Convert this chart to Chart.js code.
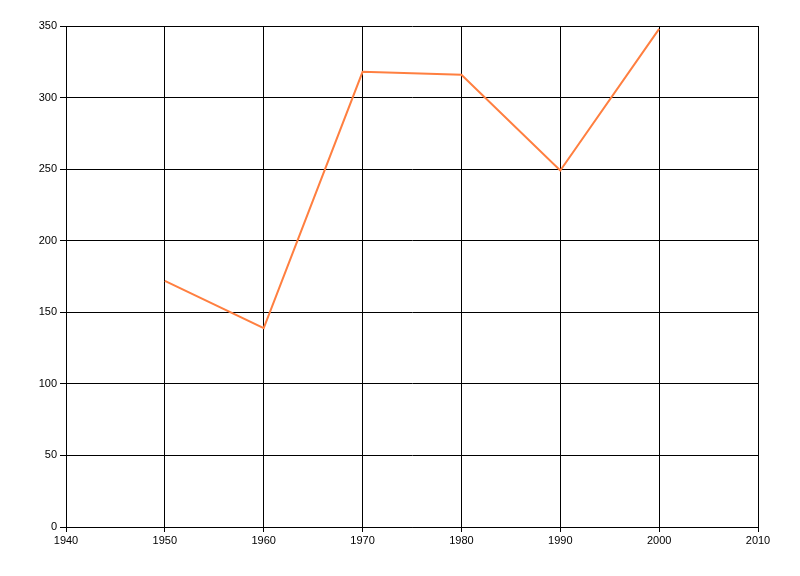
<!DOCTYPE html>
<html>
<head>
<meta charset="utf-8">
<script src="https://cdn.jsdelivr.net/npm/chart.js@4"></script>
<style>
  html, body { margin: 0; padding: 0; background: #fff; }
  #wrap { width: 800px; height: 576px; }
</style>
</head>
<body>
<div id="wrap"><canvas id="myChart"></canvas></div>
<script>
// Line Chart
var years = [1950, 1960, 1970, 1980, 1990, 2000];
var values = [172, 139, 318, 316, 249, 348];
var lineColor = "#ff7f40";

var points = years.map(function (y, i) { return {x: y, y: values[i]}; });

new Chart("myChart", {
  type: "line",
  data: {
    datasets: [{
      data: points,
      borderColor: lineColor,
      borderWidth: 2,
      pointRadius: 0,
      tension: 0,
      fill: false
    }]
  },
  options: {
    responsive: true,
    maintainAspectRatio: false,
    animation: false,
    layout: {padding: {top: 26, right: 42, left: 0, bottom: 0}},
    plugins: {
      legend: {display: false},
      tooltip: {enabled: false}
    },
    scales: {
      x: {
        type: "linear",
        min: 1940,
        max: 2010,
        afterFit: function (s) { s.height = 49; },
        ticks: {
          stepSize: 10,
          color: "#000",
          padding: 2,
          font: {family: "Liberation Sans", size: 11},
          callback: function (v) { return String(v); }
        },
        grid: {color: "#000", lineWidth: 1, tickLength: 5},
        border: {color: "#000"}
      },
      y: {
        min: 0,
        max: 350,
        afterFit: function (s) { s.width = 66; },
        ticks: {
          stepSize: 50,
          color: "#000",
          padding: 3,
          font: {family: "Liberation Sans", size: 11}
        },
        grid: {color: "#000", lineWidth: 1, tickLength: 6},
        border: {color: "#000"}
      }
    }
  }
});
</script>
</body>
</html>
